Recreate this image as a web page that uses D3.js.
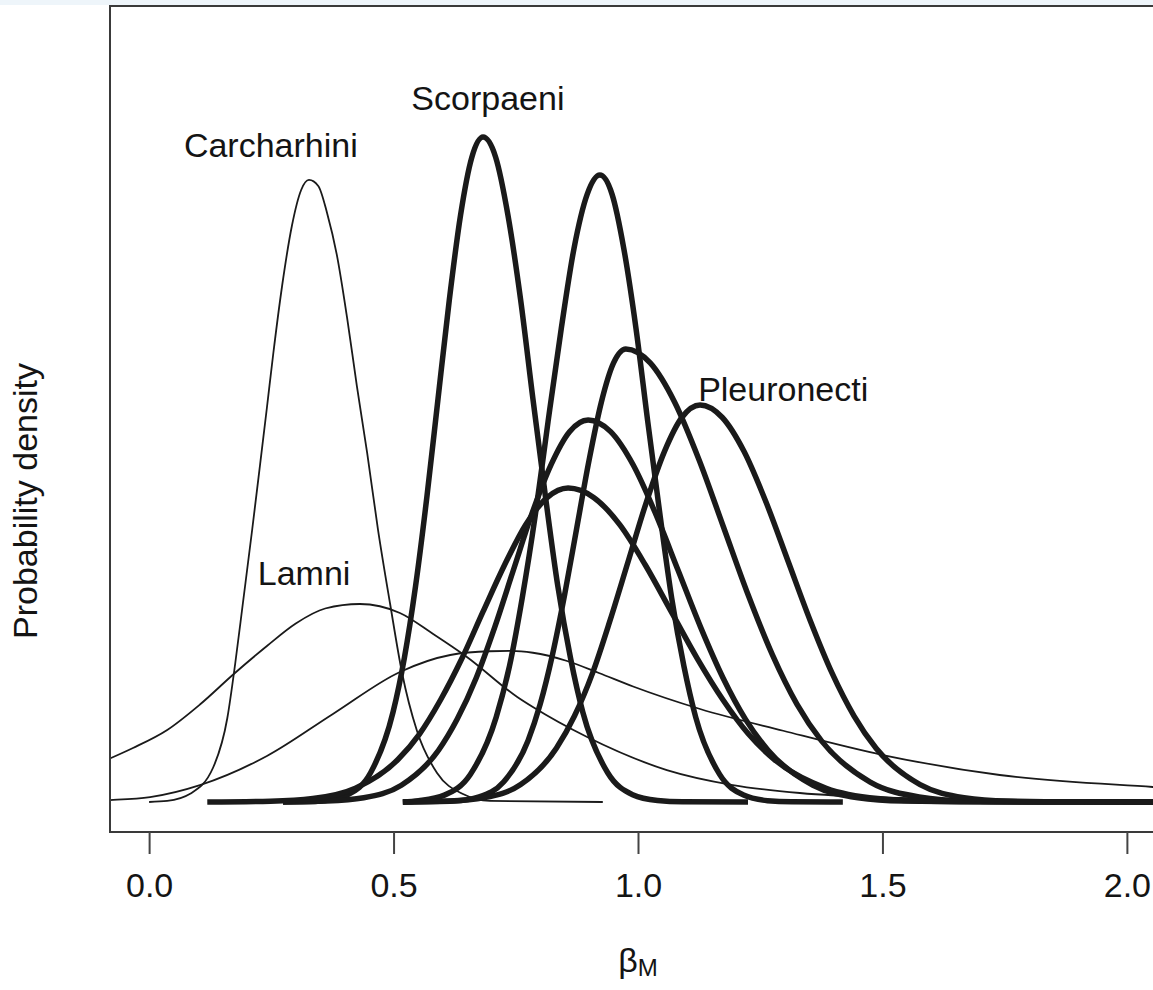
<!DOCTYPE html>
<html>
<head>
<meta charset="utf-8">
<script src="https://cdn.jsdelivr.net/npm/d3@7"></script>
<style>
  body { margin: 0; background: #fff; }
  svg { display: block; }
  text { font-family: "Liberation Sans", Arial, Helvetica, sans-serif; fill: #141414; }
</style>
</head>
<body>
<div id="chart"></div>
<script>
// x ticks
var tickValues = [0, 0.5, 1.0, 1.5, 2.0];
var tickLabels = ["0.0", "0.5", "1.0", "1.5", "2.0"];

// posterior densities of beta_M as [beta, density]
var carcharhini = [[0.0,0],[0.037,0.007],[0.084,0.055],[0.131,0.23],[0.160,0.56],[0.176,0.92],[0.192,1.33],[0.211,1.82],[0.227,2.25],[0.241,2.63],[0.254,2.99],[0.272,3.44],[0.292,3.84],[0.311,4.08],[0.327,4.147],[0.346,4.107],[0.364,3.927],[0.384,3.647],[0.405,3.227],[0.425,2.773],[0.446,2.327],[0.468,1.820],[0.493,1.320],[0.517,0.867],[0.548,0.473],[0.589,0.193],[0.642,0.053],[0.697,0.007],[0.928,0]];
var lamni = [[-0.10,0.26],[-0.078,0.293],[-0.033,0.36],[0.037,0.48],[0.104,0.65],[0.172,0.85],[0.241,1.04],[0.30,1.19],[0.36,1.29],[0.431,1.32],[0.513,1.26],[0.581,1.12],[0.650,0.967],[0.753,0.70],[0.785,0.633],[0.896,0.433],[1.059,0.213],[1.194,0.113],[1.331,0.06],[1.536,0.027],[1.74,0.013],[2.1,0.002]];
var shark3 = [[-0.10,0.010],[-0.08,0.013],[0.002,0.033],[0.104,0.113],[0.241,0.307],[0.376,0.587],[0.513,0.867],[0.616,0.98],[0.697,1.005],[0.74,1.007],[0.785,0.995],[0.855,0.94],[0.92,0.86],[0.990,0.77],[1.127,0.62],[1.297,0.475],[1.501,0.313],[1.740,0.18],[2.053,0.10],[2.1,0.09]];

var scorpaeni = [[0.274,0],[0.315,0.001],[0.361,0.010],[0.407,0.049],[0.453,0.195],[0.499,0.600],[0.522,0.959],[0.545,1.439],[0.568,2.029],[0.591,2.689],[0.614,3.346],[0.637,3.912],[0.660,4.297],[0.683,4.433],[0.709,4.297],[0.734,3.912],[0.760,3.346],[0.785,2.689],[0.811,2.029],[0.836,1.439],[0.862,0.959],[0.887,0.600],[0.938,0.195],[0.989,0.049],[1.040,0.010],[1.091,0.001],[1.225,0]];
var teleost2 = [[0.519,0],[0.551,0.009],[0.604,0.046],[0.657,0.184],[0.710,0.566],[0.737,0.904],[0.763,1.357],[0.790,1.914],[0.816,2.535],[0.843,3.155],[0.869,3.689],[0.896,4.051],[0.922,4.18],[0.947,4.051],[0.971,3.689],[0.996,3.155],[1.020,2.535],[1.045,1.914],[1.069,1.357],[1.094,0.904],[1.118,0.566],[1.167,0.184],[1.216,0.046],[1.265,0.009],[1.314,0.001],[1.419,0]];
var teleost3 = [[0.519,0],[0.625,0.007],[0.675,0.034],[0.725,0.133],[0.775,0.409],[0.800,0.653],[0.825,0.981],[0.850,1.383],[0.875,1.832],[0.900,2.280],[0.925,2.665],[0.950,2.927],[0.975,3.02],[1.025,2.927],[1.075,2.665],[1.125,2.280],[1.175,1.832],[1.225,1.383],[1.275,0.981],[1.325,0.653],[1.375,0.409],[1.475,0.133],[1.575,0.034],[1.675,0.007],[1.85,0.001],[2.1,0]];
var teleost4 = [[0.274,0],[0.363,0.006],[0.439,0.028],[0.516,0.112],[0.592,0.345],[0.630,0.551],[0.669,0.827],[0.707,1.166],[0.745,1.545],[0.783,1.922],[0.822,2.248],[0.860,2.469],[0.898,2.547],[0.944,2.469],[0.990,2.248],[1.036,1.922],[1.082,1.545],[1.128,1.166],[1.174,0.827],[1.220,0.551],[1.266,0.345],[1.358,0.112],[1.450,0.028],[1.542,0.006],[1.7,0.001],[2.1,0]];
var teleost5 = [[0.119,0],[0.248,0.005],[0.335,0.023],[0.422,0.092],[0.509,0.283],[0.553,0.453],[0.596,0.680],[0.640,0.958],[0.683,1.269],[0.727,1.580],[0.770,1.847],[0.814,2.029],[0.857,2.093],[0.910,2.029],[0.963,1.847],[1.015,1.580],[1.068,1.269],[1.121,0.958],[1.174,0.680],[1.226,0.453],[1.279,0.283],[1.385,0.092],[1.490,0.023],[1.596,0.005],[1.75,0.001],[2.1,0]];
var pleuronecti = [[0.519,0],[0.613,0.006],[0.686,0.029],[0.760,0.116],[0.833,0.358],[0.870,0.573],[0.907,0.859],[0.943,1.212],[0.980,1.605],[1.017,1.998],[1.054,2.336],[1.090,2.565],[1.127,2.647],[1.172,2.565],[1.217,2.336],[1.262,1.998],[1.307,1.605],[1.352,1.212],[1.397,0.859],[1.442,0.573],[1.487,0.358],[1.577,0.116],[1.667,0.029],[1.757,0.006],[1.9,0.001],[2.1,0]];

var thinCurves = [carcharhini, lamni, shark3];
var thickCurves = [scorpaeni, teleost2, teleost3, teleost4, teleost5, pleuronecti];

// group labels: text, beta, density (baseline position)
var labelText = ["Carcharhini", "Scorpaeni", "Lamni", "Pleuronecti"];
var labelX = [0.249, 0.693, 0.317, 1.297];
var labelY = [4.30, 4.613, 1.447, 2.673];

var W = 1153, H = 990;
var box = { left: 110, top: 6, right: 1166, bottom: 832 };

var svg = d3.select("#chart").append("svg")
    .attr("width", W)
    .attr("height", H);

svg.append("rect").attr("width", W).attr("height", H).attr("fill", "#fff");
// light strip at the very top of the screenshot
svg.append("rect").attr("width", W).attr("height", 5).attr("fill", "#eef5fa");

var x = d3.scaleLinear().domain([-0.08, 2.08]).range([box.left, box.right]);
var y = d3.scaleLinear().domain([-0.2, 5.3067]).range([box.bottom, box.top]);

svg.append("clipPath").attr("id", "plotclip")
    .append("rect")
    .attr("x", box.left).attr("y", box.top)
    .attr("width", box.right - box.left).attr("height", box.bottom - box.top);

var line = d3.line()
    .x(d => x(d[0]))
    .y(d => y(d[1]))
    .curve(d3.curveMonotoneX);

var plot = svg.append("g").attr("clip-path", "url(#plotclip)");

plot.selectAll("path.thin")
    .data(thinCurves)
    .enter().append("path")
    .attr("class", "thin")
    .attr("fill", "none")
    .attr("stroke", "#1a1a1a")
    .attr("stroke-width", 1.8)
    .attr("d", line);

plot.selectAll("path.thick")
    .data(thickCurves)
    .enter().append("path")
    .attr("class", "thick")
    .attr("fill", "none")
    .attr("stroke", "#1a1a1a")
    .attr("stroke-width", 5.5)
    .attr("stroke-linejoin", "round")
    .attr("d", line);

// plot box
svg.append("rect")
    .attr("x", box.left).attr("y", box.top)
    .attr("width", box.right - box.left).attr("height", box.bottom - box.top)
    .attr("fill", "none")
    .attr("stroke", "#3a3a3a")
    .attr("stroke-width", 2);

// x axis
var xAxis = svg.append("g")
    .attr("transform", "translate(0," + box.bottom + ")")
    .call(d3.axisBottom(x)
        .tickValues(tickValues)
        .tickFormat((d, i) => tickLabels[i])
        .tickSize(22)
        .tickPadding(19));
xAxis.select(".domain").remove();
xAxis.selectAll(".tick line").attr("stroke", "#444").attr("stroke-width", 2);
xAxis.selectAll(".tick text")
    .attr("font-size", 34)
    .attr("font-family", "'Liberation Sans', Arial, Helvetica, sans-serif")
    .attr("fill", "#141414");

// axis titles
var xt = svg.append("text")
    .attr("x", (box.left + box.right) / 2)
    .attr("y", 972)
    .attr("text-anchor", "middle")
    .attr("font-size", 34);
xt.append("tspan").text("β");
xt.append("tspan").attr("font-size", 24).attr("dy", 4).text("M");

svg.append("text")
    .attr("transform", "translate(37,501) rotate(-90)")
    .attr("text-anchor", "middle")
    .attr("font-size", 34)
    .text("Probability density");

// group labels
svg.selectAll("text.group")
    .data(labelText)
    .enter().append("text")
    .attr("class", "group")
    .attr("x", (d, i) => x(labelX[i]))
    .attr("y", (d, i) => y(labelY[i]))
    .attr("text-anchor", "middle")
    .attr("font-size", 34)
    .text(d => d);
</script>
</body>
</html>
